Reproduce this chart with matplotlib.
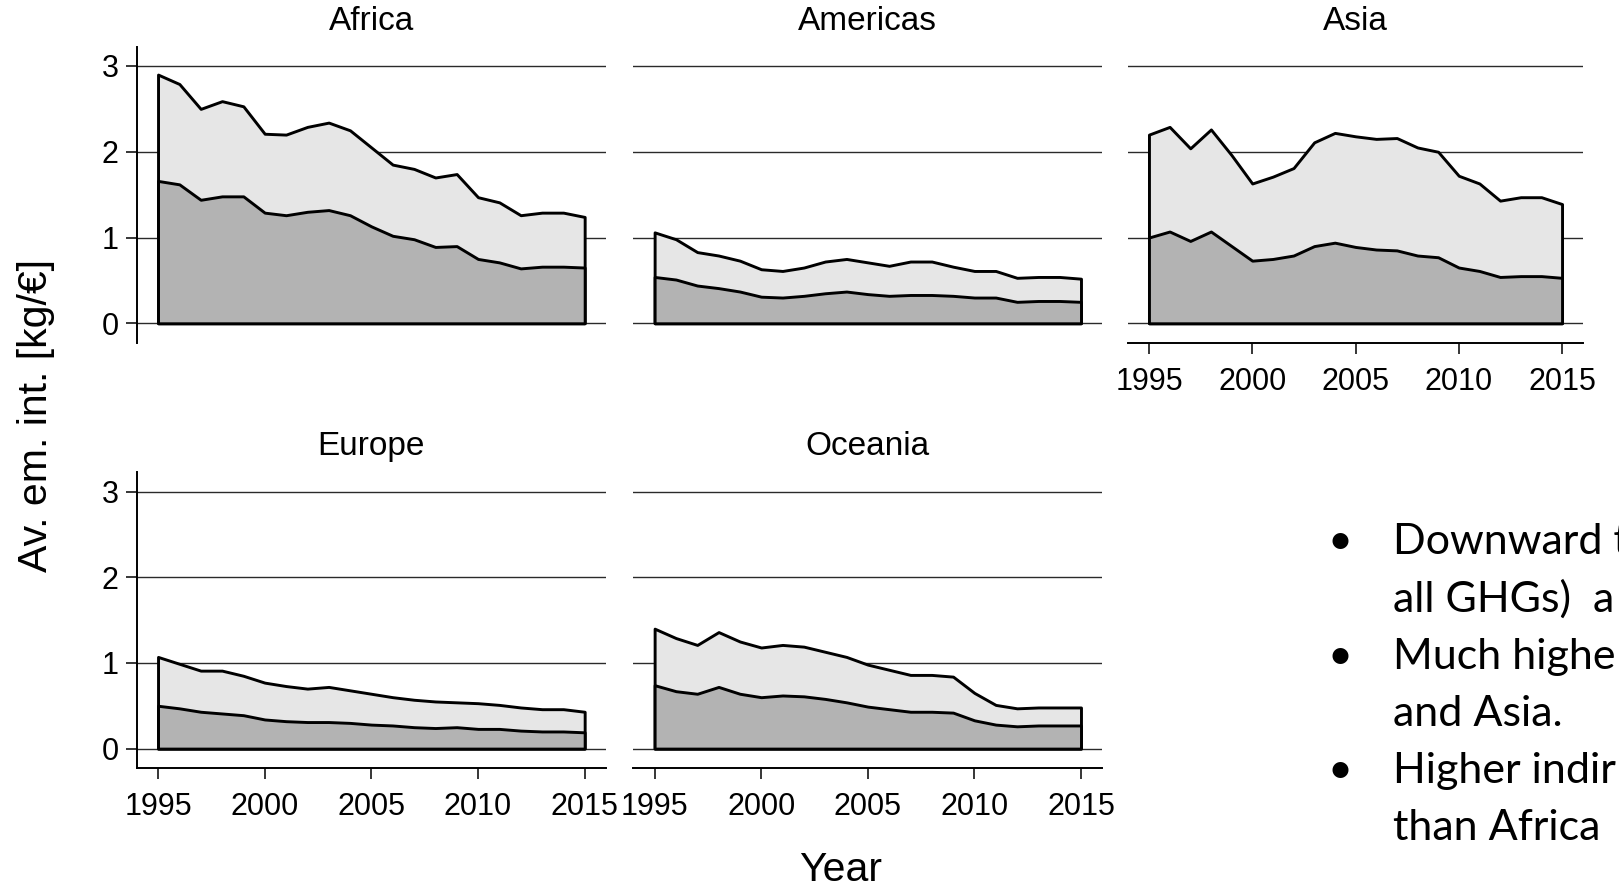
import matplotlib
matplotlib.use("Agg")
import matplotlib.pyplot as plt

plt.rcParams["font.family"] = ["Liberation Sans", "DejaVu Sans"]

YEARS = list(range(1995, 2016))

# top line = total intensity, lower line = direct part (kg per euro)
africa_total = [2.90, 2.79, 2.50, 2.59, 2.53, 2.21, 2.20, 2.29, 2.34, 2.25, 2.05,
                1.85, 1.80, 1.70, 1.74, 1.47, 1.41, 1.26, 1.29, 1.29, 1.24]
africa_direct = [1.66, 1.62, 1.44, 1.48, 1.48, 1.29, 1.26, 1.30, 1.32, 1.26, 1.13,
                 1.02, 0.98, 0.89, 0.90, 0.75, 0.71, 0.64, 0.66, 0.66, 0.65]

americas_total = [1.06, 0.98, 0.83, 0.79, 0.73, 0.63, 0.61, 0.65, 0.72, 0.75, 0.71,
                  0.67, 0.72, 0.72, 0.66, 0.61, 0.61, 0.53, 0.54, 0.54, 0.52]
americas_direct = [0.54, 0.51, 0.44, 0.41, 0.37, 0.31, 0.30, 0.32, 0.35, 0.37, 0.34,
                   0.32, 0.33, 0.33, 0.32, 0.30, 0.30, 0.25, 0.26, 0.26, 0.25]

asia_total = [2.20, 2.29, 2.04, 2.26, 1.96, 1.63, 1.71, 1.81, 2.11, 2.22, 2.18,
              2.15, 2.16, 2.05, 2.00, 1.72, 1.63, 1.43, 1.47, 1.47, 1.39]
asia_direct = [1.00, 1.07, 0.96, 1.07, 0.90, 0.73, 0.75, 0.79, 0.90, 0.94, 0.89,
               0.86, 0.85, 0.79, 0.77, 0.65, 0.61, 0.54, 0.55, 0.55, 0.53]

europe_total = [1.07, 0.99, 0.91, 0.91, 0.85, 0.77, 0.73, 0.70, 0.72, 0.68, 0.64,
                0.60, 0.57, 0.55, 0.54, 0.53, 0.51, 0.48, 0.46, 0.46, 0.43]
europe_direct = [0.50, 0.47, 0.43, 0.41, 0.39, 0.34, 0.32, 0.31, 0.31, 0.30, 0.28,
                 0.27, 0.25, 0.24, 0.25, 0.23, 0.23, 0.21, 0.20, 0.20, 0.19]

oceania_total = [1.40, 1.29, 1.21, 1.36, 1.25, 1.18, 1.21, 1.19, 1.13, 1.07, 0.98,
                 0.92, 0.86, 0.86, 0.84, 0.65, 0.51, 0.47, 0.48, 0.48, 0.48]
oceania_direct = [0.74, 0.67, 0.64, 0.72, 0.64, 0.60, 0.62, 0.61, 0.58, 0.54, 0.49,
                  0.46, 0.43, 0.43, 0.42, 0.33, 0.28, 0.26, 0.27, 0.27, 0.27]

REGIONS = ["Africa", "Americas", "Asia", "Europe", "Oceania"]
# only the part of each bullet line that shows before the slide edge
BULLETS = [
    "Downward t",
    "all GHGs)  a",
    "Much highe",
    "and Asia.",
    "Higher indir",
    "than Africa",
]

W, H = 1619, 889


def px_rect(left, top, right, bottom):
    return [left / W, 1 - bottom / H, (right - left) / W, (bottom - top) / H]


def draw_panel(ax, title, total, direct, show_y, show_x):
    ax.fill_between(YEARS, 0, total, facecolor="#e6e6e6", edgecolor="black",
                    linewidth=2.1, zorder=2)
    ax.fill_between(YEARS, 0, direct, facecolor="#b3b3b3", edgecolor="black",
                    linewidth=2.1, zorder=3)
    ax.set_xlim(1994, 2016)
    ax.set_ylim(-0.23, 3.225)
    ax.set_yticks([0, 1, 2, 3])
    ax.set_xticks([1995, 2000, 2005, 2010, 2015])
    ax.set_axisbelow(True)
    ax.grid(axis="y", color="#2a2a2a", linewidth=1.0)
    ax.set_facecolor("white")
    for side in ["top", "right"]:
        ax.spines[side].set_visible(False)
    ax.spines["left"].set_visible(show_y)
    ax.spines["bottom"].set_visible(show_x)
    for side in ["left", "bottom"]:
        ax.spines[side].set_linewidth(1.4)
    ax.tick_params(axis="y", left=show_y, labelleft=show_y, length=8,
                   width=1.1, pad=5, labelsize=22)
    ax.tick_params(axis="x", bottom=show_x, labelbottom=show_x, length=8,
                   width=1.1, pad=9, labelsize=22)
    pos = ax.get_position()
    ax.figure.text((pos.x0 + pos.x1) / 2, pos.y1 + 25.5 / H, title,
                   ha="center", va="center", fontsize=24)


fig = plt.figure(figsize=(W / 100, H / 100), dpi=100)

rects = {
    "Africa": px_rect(136.7, 46.7, 606.0, 343.0),
    "Americas": px_rect(633.3, 46.7, 1102.3, 343.0),
    "Asia": px_rect(1128.3, 46.7, 1582.7, 343.0),
    "Europe": px_rect(136.7, 472.3, 606.0, 768.3),
    "Oceania": px_rect(633.3, 472.3, 1102.3, 768.3),
}
series = {
    "Africa": (africa_total, africa_direct, True, False),
    "Americas": (americas_total, americas_direct, False, False),
    "Asia": (asia_total, asia_direct, False, True),
    "Europe": (europe_total, europe_direct, True, True),
    "Oceania": (oceania_total, oceania_direct, False, True),
}

for name in REGIONS:
    ax = fig.add_axes(rects[name])
    total, direct, show_y, show_x = series[name]
    draw_panel(ax, name, total, direct, show_y, show_x)

fig.text(36 / W, 1 - 415 / H, "Av. em. int. [kg/€]", rotation=90,
         ha="center", va="center", fontsize=29.5)
fig.text(841 / W, 1 - 870 / H, "Year", ha="center", va="center", fontsize=29.5)

# bullet notes on the right, cut off by the slide edge
for i, line in enumerate(BULLETS):
    y = 1 - (554 + 57.3 * i) / H
    if i in (0, 2, 4):
        fig.text(1340 / W, y, "•", ha="center", va="baseline", fontsize=31,
                 family=["Lato", "DejaVu Sans"])
    fig.text(1393 / W, y, line, ha="left", va="baseline", fontsize=31,
             family=["Lato", "DejaVu Sans"])

fig.savefig("out.png", dpi=100)
